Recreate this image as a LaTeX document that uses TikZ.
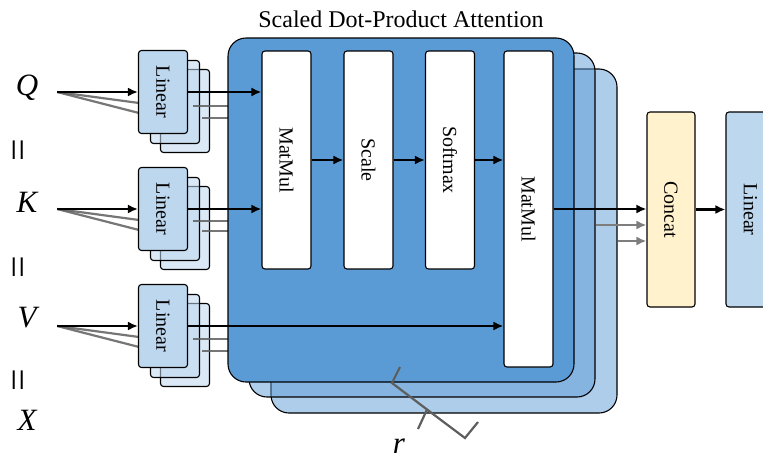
\documentclass[tikz,border=0pt]{standalone}
\usepackage{fontspec}
\setmainfont{Liberation Serif}
\usepackage{graphicx}
\usetikzlibrary{arrows.meta}
\definecolor{attn}{HTML}{5B9BD5}
\definecolor{linfill}{HTML}{BDD7EE}
\definecolor{catfill}{HTML}{FFF2CC}
\definecolor{graylink}{HTML}{5E5E5E}
\tikzset{
  blk/.style={draw, line width=1.1pt, rounded corners=3pt, inner sep=0pt, font=\fontsize{20}{24}\selectfont},
  lin/.style={blk, fill=linfill, minimum width=49pt, minimum height=83pt},
  linback/.style={lin, fill opacity=0.55},
  op/.style={blk, fill=white, minimum width=49pt},
  panel/.style={draw, line width=1.1pt, rounded corners=18pt, fill=attn, minimum width=346pt, minimum height=344pt},
  panelback/.style={panel, fill opacity=0.5},
  var/.style={inner sep=0pt, minimum width=60pt, font=\fontsize{31}{36}\selectfont\itshape},
  eqs/.style={inner sep=0pt, font=\fontsize{40}{44}\selectfont},
  arr/.style={-{Latex[length=10pt,width=9pt]}, line width=2.2pt},
  gline/.style={line width=2.2pt, draw=graylink, draw opacity=0.85},
  garr/.style={arr, draw=graylink!80, fill=graylink!80},
  brc/.style={line width=2.2pt, draw=graylink, line join=miter},
}
\newcommand{\vlabel}[1]{\rotatebox{-90}{#1}}
\begin{document}
\begin{tikzpicture}[x=1pt,y=-1pt]
\clip (0,0) rectangle (763,461);
%
\node[var] (Q) at (27,88) {Q};
\node[var] (K) at (27,202) {K};
\node[var] (V) at (27,318) {V};
\node[var] (X) at (27,420) {X};
\node[eqs] (eq1) at (22,150) {\rotatebox{90}{=}};
\node[eqs] (eq2) at (22,267) {\rotatebox{90}{=}};
\node[eqs] (eq3) at (22,380) {\rotatebox{90}{=}};
%
% linear stacks, back copies first
\node[linback] (lq3) at (185,111) {};
\node[linback] (lq2) at (175,102) {};
\node[linback] (lk3) at (185,228) {};
\node[linback] (lk2) at (175,219) {};
\node[linback] (lv3) at (185,345) {};
\node[linback] (lv2) at (175,336) {};
%
\draw[gline] (Q.east |- 0,92) -- (139,103);
\draw[gline] (Q.east |- 0,92) -- (139,113);
\draw[gline] (K.east |- 0,209) -- (139,220);
\draw[gline] (K.east |- 0,209) -- (139,230);
\draw[gline] (V.east |- 0,326) -- (139,337);
\draw[gline] (V.east |- 0,326) -- (139,347);
%
\node[lin] (lq) at (163,92) {\vlabel{Linear}};
\node[lin] (lk) at (163,209) {\vlabel{Linear}};
\node[lin] (lv) at (163,326) {\vlabel{Linear}};
%
\draw[arr] (Q.east |- lq.west) -- (lq.west);
\draw[arr] (K.east |- lk.west) -- (lk.west);
\draw[arr] (V.east |- lv.west) -- (lv.west);
%
% outputs towards the hidden heads
\coordinate (q2) at ([shift={(5,14)}]lq.east);
\coordinate (q3) at ([shift={(14,26)}]lq.east);
\coordinate (k2) at ([shift={(5,12)}]lk.east);
\coordinate (k3) at ([shift={(14,22)}]lk.east);
\coordinate (v2) at ([shift={(5,13)}]lv.east);
\coordinate (v3) at ([shift={(14,25)}]lv.east);
\draw[gline] (q2) -- ++(45,0);
\draw[gline] (q3) -- ++(40,0);
\draw[gline] (k2) -- ++(45,0);
\draw[gline] (k3) -- ++(40,0);
\draw[gline] (v2) -- ++(45,0);
\draw[gline] (v3) -- ++(40,0);
%
% heads
\node[panelback] (p3) at (444,241) {};
\node[panelback] (p2) at (422,225) {};
\node[panel] (p1) at (401,210) {};
\node[font=\fontsize{24}{28}\selectfont] (ttl) at (401,19) {Scaled Dot-Product Attention};
%
\node[op, minimum height=218pt] (mm1) at (286.5,160) {\vlabel{MatMul}};
\node[op, minimum height=218pt] (sc) at (368.5,160) {\vlabel{Scale}};
\node[op, minimum height=218pt] (sm) at (450,160) {\vlabel{Softmax}};
\node[op, minimum height=316pt] (mm2) at (528.5,209) {\vlabel{MatMul}};
%
\draw[arr] (lq.east) -- (mm1.west |- lq.east);
\draw[arr] (lk.east) -- (mm1.west |- lk.east);
\draw[arr] (lv.east) -- (mm2.west |- lv.east);
\draw[arr] (mm1.east) -- (sc.west);
\draw[arr] (sc.east) -- (sm.west);
\draw[arr] (sm.east |- mm1.east) -- (mm2.west |- mm1.east);
%
\node[blk, fill=catfill, minimum width=48pt, minimum height=195pt] (cc) at (671,209.5) {\vlabel{Concat}};
\node[blk, fill=linfill, minimum width=49pt, minimum height=195pt] (lo) at (750.5,209.5) {\vlabel{Linear}};
%
\draw[arr] (mm2.east) -- (cc.west |- mm2.east);
\draw[garr] (p2.east) -- (p2.east -| cc.west);
\draw[garr] (p3.east) -- (p3.east -| cc.west);
\draw[arr] (cc.east) -- (lo.west);
%
% number of heads
\draw[brc] (400,367) -- (392,383) -- (427,409.5) -- (418,429);
\draw[brc] (427,409.5) -- (465,438) -- (478,422);
\node[var, minimum width=0pt] (r) at (399,446) {r};
%
\end{tikzpicture}
\end{document}
